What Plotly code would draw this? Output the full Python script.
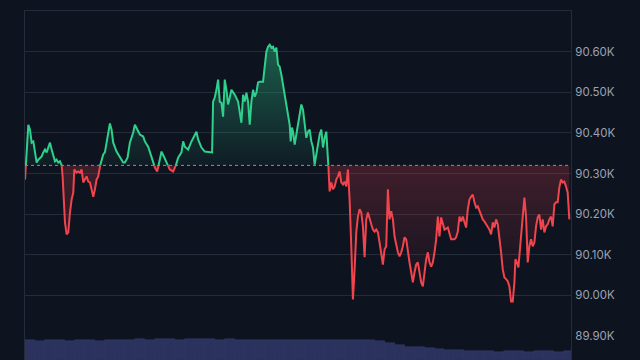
import plotly.graph_objects as go

BASE = 90320

times = [0, 10, 15, 20, 25, 30, 35, 40, 50, 55, 60, 65, 70, 75, 80, 85, 90, 95, 100, 105,
         110, 113, 117, 120, 125, 130, 135, 140, 145, 148, 155, 160, 165, 170, 175, 180, 185, 190, 195, 200,
         205, 210, 215, 220, 225, 230, 235, 240, 245, 250, 255, 260, 265, 275, 285, 295, 300, 308, 315, 325,
         330, 338, 345, 355, 360, 370, 380, 390, 397, 405, 410, 417, 425, 435, 445, 452, 460, 470, 475, 480,
         490, 500, 510, 515, 520, 530, 540, 555, 562, 565, 570, 575, 580, 585, 590, 595, 600, 605, 610, 615,
         620, 630, 640, 650, 655, 660, 665, 670, 675, 680, 685, 690, 695, 700, 705, 715, 720, 725, 730, 735,
         740, 745, 750, 755, 760, 765, 770, 775, 780, 785, 790, 795, 798, 802, 805, 810, 815, 820, 825, 830,
         835, 840, 845, 850, 855, 860, 865, 870, 875, 880, 885, 890, 895, 900, 905, 910, 913, 915, 920, 925,
         930, 935, 940, 945, 950, 955, 960, 965, 970, 975, 980, 985, 990, 995, 1000, 1005, 1010, 1015, 1020, 1025,
         1030, 1035, 1040, 1045, 1050, 1055, 1060, 1065, 1070, 1075, 1080, 1085, 1090, 1095, 1100, 1105, 1110, 1115, 1120, 1125,
         1130, 1135, 1140, 1145, 1150, 1155, 1160, 1165, 1170, 1175, 1180, 1185, 1190, 1195, 1200, 1205, 1210, 1215, 1220, 1225,
         1230, 1235, 1240, 1245, 1250, 1255, 1260, 1270, 1275, 1280, 1290, 1295, 1300, 1305, 1310, 1315, 1320, 1325, 1330, 1335,
         1340, 1345, 1350, 1355, 1360, 1365, 1370, 1375, 1380, 1385, 1390, 1395, 1400, 1405, 1410, 1415, 1420, 1425, 1430, 1435,
         1440, 1445, 1450, 1455, 1460, 1465, 1470, 1473, 1478, 1482, 1488, 1495, 1500, 1505, 1510, 1515, 1520, 1525, 1530, 1535,
         1540, 1545, 1550, 1555, 1560, 1565, 1570, 1575, 1580, 1585, 1590, 1595, 1600, 1605, 1610, 1615, 1620, 1625, 1630, 1635]

prices = [90285, 90420, 90408, 90376, 90379, 90352, 90327, 90334, 90342, 90352, 90359, 90352, 90366, 90376, 90359, 90342, 90330, 90334, 90327, 90330,
          90322, 90293, 90229, 90180, 90150, 90155, 90204, 90236, 90253, 90310, 90302, 90305, 90302, 90310, 90278, 90285, 90293, 90280, 90278, 90261,
          90243, 90261, 90285, 90293, 90317, 90334, 90347, 90352, 90376, 90408, 90423, 90408, 90376, 90354, 90339, 90327, 90327, 90339, 90376, 90401,
          90420, 90408, 90396, 90391, 90379, 90366, 90342, 90315, 90305, 90334, 90354, 90342, 90327, 90310, 90305, 90317, 90339, 90352, 90379, 90366,
          90359, 90379, 90396, 90403, 90384, 90364, 90354, 90352, 90352, 90477, 90487, 90506, 90531, 90477, 90474, 90440, 90531, 90506, 90470, 90487,
          90506, 90494, 90477, 90425, 90494, 90477, 90499, 90477, 90420, 90477, 90506, 90489, 90499, 90524, 90526, 90526, 90560, 90600, 90612, 90617,
          90610, 90612, 90600, 90610, 90568, 90563, 90543, 90519, 90501, 90477, 90450, 90420, 90379, 90413, 90403, 90371, 90396, 90420, 90452, 90470,
          90457, 90425, 90388, 90403, 90408, 90379, 90364, 90322, 90347, 90379, 90396, 90408, 90364, 90388, 90403, 90334, 90298, 90256, 90278, 90261,
          90268, 90285, 90293, 90305, 90278, 90273, 90280, 90268, 90310, 90236, 90121, 89990, 90064, 90155, 90194, 90212, 90204, 90170, 90094, 90187,
          90204, 90192, 90175, 90162, 90157, 90162, 90155, 90130, 90096, 90076, 90113, 90121, 90261, 90187, 90207, 90187, 90145, 90121, 90106, 90096,
          90106, 90121, 90143, 90138, 90106, 90081, 90057, 90032, 90057, 90076, 90081, 90057, 90032, 90022, 90057, 90089, 90106, 90081, 90071, 90081,
          90106, 90138, 90194, 90145, 90192, 90175, 90162, 90167, 90155, 90138, 90138, 90143, 90157, 90194, 90182, 90194, 90180, 90167, 90212, 90236,
          90243, 90248, 90229, 90216, 90219, 90207, 90199, 90187, 90182, 90175, 90170, 90162, 90150, 90180, 90167, 90187, 90175, 90145, 90106, 90064,
          90044, 90040, 90035, 90022, 89985, 89985, 90032, 90089, 90081, 90069, 90130, 90194, 90241, 90194, 90081, 90121, 90138, 90121, 90130, 90170,
          90192, 90199, 90162, 90187, 90155, 90170, 90175, 90187, 90194, 90170, 90224, 90229, 90229, 90266, 90285, 90278, 90280, 90268, 90253, 90187]

vol_times = [15 + 30 * i for i in range(55)]
volumes = [195, 194, 196, 195, 193, 195, 196, 194, 195, 195, 196,
           205, 204, 206, 205, 204, 205, 206, 205, 204, 205,
           200, 201, 200, 199, 200, 201, 200, 200, 199, 200, 201, 200, 200, 199,
           185, 165, 145, 130, 125, 120, 110, 100, 95, 90,
           85, 85, 84, 85, 85, 84, 85, 85, 84, 85]

tick_vals = [89900, 90000, 90100, 90200, 90300, 90400, 90500, 90600]
tick_text = ["89.90K", "90.00K", "90.10K", "90.20K", "90.30K", "90.40K", "90.50K", "90.60K"]

BG = "#0e1320"
GRID = "#242b39"
GREEN = "#2fd08c"
RED = "#f0454d"

# insert baseline crossings so the line can change colour exactly at the baseline
aug_t, aug_v = [times[0]], [prices[0]]
for i in range(1, len(times)):
    t0, v0, t1, v1 = times[i - 1], prices[i - 1], times[i], prices[i]
    if (v0 - BASE) * (v1 - BASE) < 0:
        aug_t.append(t0 + (BASE - v0) / (v1 - v0) * (t1 - t0))
        aug_v.append(BASE)
    aug_t.append(t1)
    aug_v.append(v1)

green_line = [v if v >= BASE else None for v in aug_v]
red_line = [v if v <= BASE else None for v in aug_v]
green_fill = [max(v, BASE) for v in aug_v]
red_fill = [min(v, BASE) for v in aug_v]
base_arr = [BASE] * len(aug_v)

fig = go.Figure()

fig.add_trace(go.Bar(x=vol_times, y=volumes, yaxis="y2", marker=dict(color="#2a325d", line=dict(width=0.6, color="#323b6b")),
                     width=30, hoverinfo="skip", showlegend=False))

fig.add_trace(go.Scatter(x=aug_t, y=base_arr, mode="lines", line=dict(width=0), hoverinfo="skip", showlegend=False))
fig.add_trace(go.Scatter(x=aug_t, y=green_fill, mode="lines", line=dict(width=0), fill="tonexty",
                         fillgradient=dict(type="vertical", start=BASE, stop=90620,
                                           colorscale=[[0, "rgba(47,208,140,0.05)"], [1, "rgba(47,208,140,0.40)"]]),
                         hoverinfo="skip", showlegend=False))
fig.add_trace(go.Scatter(x=aug_t, y=base_arr, mode="lines", line=dict(width=0), hoverinfo="skip", showlegend=False))
fig.add_trace(go.Scatter(x=aug_t, y=red_fill, mode="lines", line=dict(width=0), fill="tonexty",
                         fillgradient=dict(type="vertical", start=89985, stop=BASE,
                                           colorscale=[[0, "rgba(240,69,77,0.0)"], [1, "rgba(240,69,77,0.22)"]]),
                         hoverinfo="skip", showlegend=False))

fig.add_trace(go.Scatter(x=aug_t, y=green_line, mode="lines", line=dict(color=GREEN, width=2), showlegend=False))
fig.add_trace(go.Scatter(x=aug_t, y=red_line, mode="lines", line=dict(color=RED, width=2), showlegend=False))

fig.add_shape(type="line", xref="paper", x0=0, x1=1, yref="y", y0=BASE, y1=BASE,
              line=dict(color="#8a90a0", width=1, dash="dot"), layer="above")

fig.update_layout(
    width=640, height=360,
    margin=dict(l=25, r=69, t=11, b=0),
    paper_bgcolor=BG, plot_bgcolor=BG,
    font=dict(family="Inter, Roboto, sans-serif", color="#9ba2b2", size=12),
    bargap=0,
    xaxis=dict(range=[0, 1640], showgrid=False, zeroline=False, showticklabels=False,
               showline=True, mirror=True, linecolor=GRID, linewidth=1),
    yaxis=dict(range=[89841, 90700], side="right", tickvals=tick_vals, ticktext=tick_text,
               showgrid=True, gridcolor=GRID, gridwidth=1, zeroline=False,
               showline=True, mirror=True, linecolor=GRID, linewidth=1,
               ticks="outside", ticklen=1, tickcolor="rgba(0,0,0,0)",
               tickfont=dict(size=11.5, color="#9ba2b2")),
    yaxis2=dict(domain=[0, 0.1], range=[0, 349], showgrid=False, zeroline=False,
                showticklabels=False, showline=False),
    hovermode=False,
)

fig.write_html("out.html", config={"displayModeBar": False})
